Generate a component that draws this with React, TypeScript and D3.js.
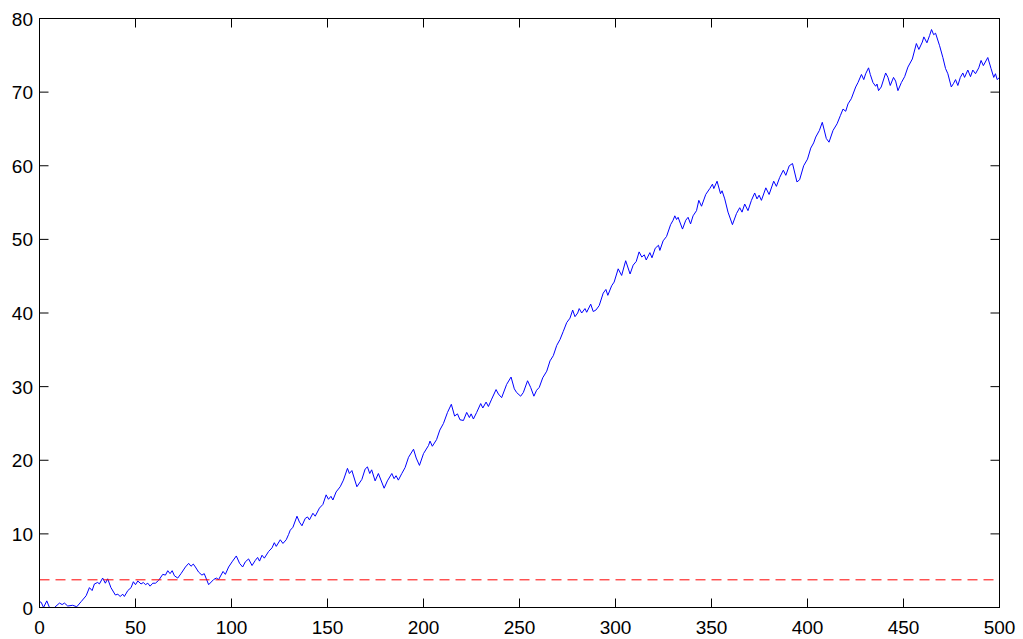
import React, { useEffect, useRef } from 'react';
import * as d3 from 'd3';

// random-walk trace
const walkX = [
  0, 0.9, 2.1, 3.8, 5.2, 7.8, 10.4, 11.8, 13.0, 14.7, 17.3, 19.4, 21.7, 24.3, 26.0, 27.4, 28.6, 30.3,
  31.2, 32.9, 34.3, 35.5, 37.2, 39.5, 40.8, 42.0, 43.4, 44.2, 46.0, 47.7, 48.9, 50.0, 51.2, 52.9, 54.1,
  55.2, 56.4, 57.6, 59.0, 60.4, 62.1, 64.2, 65.6, 66.8, 68.0, 69.1, 70.3, 72.0, 73.7, 76.0, 77.7, 78.9,
  80.1, 81.2, 82.9, 84.6, 85.8, 88.1, 90.7, 92.1, 93.3, 95.6, 96.8, 98.5, 100.3, 102.5, 104.2, 105.8,
  107.2, 108.9, 110.7, 112.4, 113.6, 114.6, 115.9, 117.1, 119.3, 121.1, 122.3, 123.3, 125.4, 126.8,
  128.5, 129.7, 130.6, 132.0, 134.1, 135.4, 136.7, 138.4, 139.6, 140.6, 142.4, 143.6, 145.8, 147.6,
  149.3, 150.5, 151.8, 152.8, 154.5, 156.6, 158.3, 160.4, 161.4, 162.7, 165.3, 167.9, 169.6, 170.8,
  172.0, 173.0, 174.8, 176.5, 179.5, 181.2, 183.5, 184.7, 185.7, 186.9, 188.7, 190.4, 192.2, 194.8,
  196.2, 197.9, 200.0, 202.6, 203.4, 204.6, 206.8, 208.5, 210.4, 212.5, 214.5, 216.2, 217.7, 219.0,
  220.8, 222.5, 223.9, 224.8, 226.0, 227.7, 229.8, 230.9, 232.6, 233.8, 235.5, 237.8, 239.0, 240.7,
  243.3, 245.6, 247.3, 248.5, 250.6, 252.0, 254.2, 255.8, 257.5, 258.9, 260.3, 262.1, 264.2, 265.9,
  267.6, 269.4, 271.1, 272.8, 274.6, 276.3, 277.7, 278.9, 280.3, 281.1, 282.4, 284.1, 285.0, 287.1,
  288.4, 289.8, 291.5, 293.6, 295.0, 296.0, 298.0, 299.3, 301.4, 303.2, 305.3, 307.6, 309.2, 310.8,
  312.3, 313.7, 315.0, 316.0, 317.9, 319.0, 320.7, 322.4, 323.1, 324.8, 326.6, 328.7, 330.0, 330.9,
  331.8, 332.6, 334.9, 336.6, 337.8, 339.1, 340.4, 342.2, 343.4, 344.8, 347.0, 349.1, 350.5, 351.2,
  352.9, 354.7, 355.5, 356.9, 358.6, 360.9, 363.0, 364.7, 365.9, 367.3, 369.0, 370.8, 372.5, 373.7,
  374.8, 376.0, 378.3, 380.0, 382.4, 383.8, 385.5, 387.4, 388.7, 390.5, 392.2, 394.5, 395.9, 398.0,
  400.0, 401.7, 403.2, 404.3, 406.2, 407.7, 409.8, 411.2, 413.3, 415.4, 417.1, 418.5, 419.9, 421.1,
  422.8, 425.1, 426.3, 428.1, 429.3, 430.3, 431.8, 432.7, 434.1, 435.5, 436.2, 437.0, 438.4, 440.7,
  441.9, 443.1, 444.8, 445.9, 447.1, 448.9, 450.6, 452.3, 454.6, 456.7, 458.0, 459.8, 460.6, 462.2,
  463.6, 464.6, 465.7, 466.7, 468.8, 470.5, 471.9, 473.1, 474.9, 476.1, 477.1, 478.3, 479.6, 480.9,
  481.8, 483.5, 484.9, 486.1, 487.5, 489.2, 490.4, 491.6, 493.9, 495.6, 497.0, 497.9, 498.8, 500,
];
const walkY = [
  0.8, 0.7, 0, 0.9, 0, 0, 0.6, 0.4, 0.6, 0.2, 0.3, 0.1, 0.8, 1.6, 2.7, 2.3, 3.2, 3.4,
  3.2, 4.0, 3.3, 3.9, 2.7, 1.7, 1.8, 1.5, 1.8, 1.5, 2.3, 2.7, 3.5, 3.1, 3.6, 3.2, 3.4,
  3.1, 3.3, 2.9, 3.3, 3.3, 3.7, 4.5, 4.4, 5.0, 4.6, 5.0, 4.3, 4.0, 4.6, 5.5, 6.0, 5.6,
  5.9, 5.5, 4.8, 4.4, 4.6, 3.1, 3.8, 4.0, 3.8, 4.9, 4.5, 5.5, 6.2, 7.0, 6.0, 5.5,
  6.2, 6.6, 5.7, 6.4, 6.8, 6.3, 7.1, 6.7, 7.6, 8.1, 8.8, 8.3, 9.2, 8.7,
  9.2, 9.9, 10.5, 10.9, 12.4, 11.6, 11.1, 12.1, 12.3, 11.9, 12.8, 12.4, 13.5, 14.0,
  15.3, 14.7, 15.1, 14.6, 15.7, 16.4, 17.3, 18.9, 18.2, 18.6, 16.4, 17.4, 18.8, 19.1,
  18.2, 18.7, 17.2, 18.2, 16.2, 17.2, 18.2, 17.5, 17.9, 17.3, 18.2, 19.0, 20.4, 21.5,
  20.3, 19.3, 20.9, 22.0, 22.6, 21.9, 22.8, 24.1, 25.0, 26.5, 27.6, 26.0, 26.3, 25.5,
  25.4, 26.5, 25.8, 26.3, 25.6, 26.5, 27.7, 27.1, 27.9, 27.3, 28.3, 29.6, 29.0, 28.5,
  30.3, 31.3, 29.7, 29.2, 28.7, 29.2, 30.8, 29.9, 28.7, 29.5, 29.9, 31.2, 32.1, 33.5,
  34.2, 35.6, 36.4, 37.5, 38.7, 39.3, 40.4, 39.5, 40.0, 40.6, 40.0, 40.6, 40.1, 41.2,
  40.2, 40.4, 41.0, 42.7, 43.2, 42.4, 43.7, 44.2, 46.0, 45.1, 47.1, 45.3, 46.5, 47.0,
  48.3, 47.6, 47.9, 47.2, 48.2, 47.5, 48.8, 49.2, 48.5, 49.8, 50.4, 52.0, 52.6, 53.2,
  52.7, 53.0, 51.4, 52.6, 53.0, 52.1, 53.2, 53.9, 55.3, 54.5, 56.1, 56.9, 57.5, 56.9,
  57.9, 56.2, 56.6, 55.5, 53.7, 52.0, 53.5, 54.3, 53.7, 54.8, 53.9, 55.3, 56.3, 55.5,
  56.0, 55.3, 57.0, 56.1, 57.9, 57.2, 58.4, 59.4, 58.7, 60.0, 60.3, 57.8, 58.1, 60.0,
  60.9, 62.4, 63.1, 63.9, 64.8, 65.9, 63.7, 63.2, 64.8, 65.7, 66.8, 67.7, 67.4, 68.4,
  69.1, 70.7, 71.3, 72.4, 71.7, 72.5, 73.3, 72.4, 71.3, 70.8, 71.1, 70.2, 70.7, 72.6,
  72.0, 70.9, 72.0, 71.5, 70.2, 71.3, 72.1, 73.4, 74.5, 76.6, 75.8, 76.8, 77.5, 76.7,
  77.7, 78.5, 77.8, 78.0, 76.3, 74.7, 73.2, 72.5, 70.7, 71.2, 71.7, 70.9, 72.0, 72.6,
  72.0, 73.0, 72.1, 73.0, 72.5, 73.3, 74.3, 73.6, 74.7, 73.2, 72.0, 72.5, 71.7, 72.0,
];
const threshold = 3.76;
const xTicks = [0, 50, 100, 150, 200, 250, 300, 350, 400, 450, 500];
const yTicks = [0, 10, 20, 30, 40, 50, 60, 70, 80];

const App: React.FC = () => {
  const svgRef = useRef<SVGSVGElement>(null);

  useEffect(() => {
    if (!svgRef.current) return;
    const width = 1023;
    const height = 639;
    const svg = d3.select(svgRef.current);
    svg.selectAll('*').remove();

    const x = d3.scaleLinear().domain([0, 500]).range([39.5, 999.5]);
    const y = d3.scaleLinear().domain([0, 80]).range([607.5, 18.5]);
    const font = '"Liberation Sans", Arial, Helvetica, sans-serif';
    const tickLen = 9;

    svg.append('rect').attr('width', width).attr('height', height).attr('fill', '#fff');

    // data line
    const line = d3.line<number>()
      .x((_, i) => x(walkX[i]))
      .y(d => y(d));
    svg.append('path')
      .datum(walkY)
      .attr('d', line)
      .attr('fill', 'none')
      .attr('stroke', '#0000ff')
      .attr('stroke-width', 1);

    // threshold
    svg.append('line')
      .attr('x1', x(0)).attr('x2', x(500))
      .attr('y1', y(threshold)).attr('y2', y(threshold))
      .attr('stroke', '#ff0000')
      .attr('stroke-width', 1)
      .attr('stroke-dasharray', '10,6');

    // box
    svg.append('rect')
      .attr('x', x(0)).attr('y', y(80))
      .attr('width', x(500) - x(0)).attr('height', y(0) - y(80))
      .attr('fill', 'none').attr('stroke', '#000').attr('stroke-width', 1);

    // ticks (inside, all four sides)
    const ticks = svg.append('g').attr('stroke', '#000').attr('stroke-width', 1);
    xTicks.forEach(t => {
      ticks.append('line').attr('x1', x(t)).attr('x2', x(t)).attr('y1', y(0)).attr('y2', y(0) - tickLen);
      ticks.append('line').attr('x1', x(t)).attr('x2', x(t)).attr('y1', y(80)).attr('y2', y(80) + tickLen);
    });
    yTicks.forEach(t => {
      ticks.append('line').attr('x1', x(0)).attr('x2', x(0) + tickLen).attr('y1', y(t)).attr('y2', y(t));
      ticks.append('line').attr('x1', x(500)).attr('x2', x(500) - tickLen).attr('y1', y(t)).attr('y2', y(t));
    });

    // labels
    svg.append('g').selectAll('text').data(xTicks).enter().append('text')
      .attr('x', d => x(d)).attr('y', 634)
      .attr('text-anchor', 'middle')
      .attr('font-family', font).attr('font-size', 19).attr('fill', '#000')
      .text(d => d);

    svg.append('g').selectAll('text').data(yTicks).enter().append('text')
      .attr('x', 33).attr('y', d => y(d) + 7)
      .attr('text-anchor', 'end')
      .attr('font-family', font).attr('font-size', 19).attr('fill', '#000')
      .text(d => d);
  }, []);

  return (
    <svg ref={svgRef} width="1023" height="639"
      style={{ position: 'absolute', left: 0, top: 0, display: 'block' }} />
  );
};

export default App;
